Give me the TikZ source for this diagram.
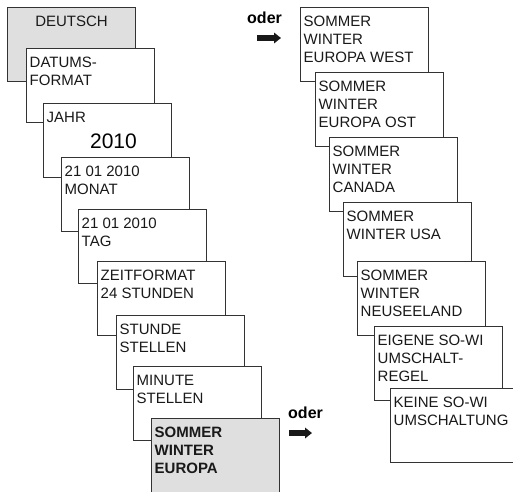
\documentclass[tikz,border=0pt]{standalone}
\usepackage{fontspec}
\setmainfont{Liberation Sans}
\usetikzlibrary{arrows.meta}
\tikzstyle{every picture}+=[
  scrnode/.style={draw=black!80,line width=1.1pt,fill=white,anchor=north west,minimum width=128pt,minimum height=74pt,inner sep=0pt},
  selnode/.style={scrnode,fill=gray!25},
  txtnode/.style={anchor=north west,align=left,inner sep=0pt,font=\fontsize{15}{18}\selectfont,text=black!90},
  odernode/.style={anchor=base west,inner sep=0pt,font=\fontsize{16}{18}\selectfont\bfseries},
  pfeil/.style={line width=5.5pt,black!90,-{Triangle[length=7pt,width=10.5pt]}}
]
\newcommand*{\screen}[4][scrnode]{\node[#1] (#2) at #3 {}; \node[txtnode] (#2txt) at ([shift={(3.5,9)}]#2.north west) {#4}}
\def\boxw{128pt}
\def\boxh{74pt}

\begin{document}
\begin{tikzpicture}[x=1pt,y=-1pt]
      \useasboundingbox (0,0) rectangle (513,491);
      \clip (0,0) rectangle (513,491);
      % linke Spalte
      \node[selnode] (deutsch) at (7,7) {};
      \node[txtnode,anchor=north] (deutschtxt) at ([yshift=-8.5pt]deutsch.north) {DEUTSCH};
      \screen{datum}{(26,48)}{DATUMS-\\FORMAT};
      \screen{jahr}{(43,103)}{JAHR};
      \node[anchor=base,inner sep=0pt,font=\fontsize{21}{24}\selectfont] (jahrzahl) at ([shift={(70.5,45)}]jahr.north west) {2010};
      \screen{monat}{(61,157)}{21 01 2010\\MONAT};
      \screen{tag}{(78,209)}{21 01 2010\\TAG};
      \screen{zeitf}{(97,261)}{ZEITFORMAT\\24 STUNDEN};
      \screen{stunde}{(116,315)}{STUNDE\\STELLEN};
      \screen{minute}{(133,366)}{MINUTE\\STELLEN};
      \screen[selnode]{sowi}{(151,418)}{\bfseries SOMMER\\\bfseries WINTER\\\bfseries EUROPA};
      %
      % rechte Spalte
      \screen{west}{(300,7)}{SOMMER\\WINTER\\EUROPA WEST};
      \screen{ost}{(315,72)}{SOMMER\\WINTER\\EUROPA OST};
      \screen{canada}{(329,137)}{SOMMER\\WINTER\\CANADA};
      \screen{usa}{(343,202)}{SOMMER\\WINTER USA};
      \screen{neus}{(357,261)}{SOMMER\\WINTER\\NEUSEELAND};
      \screen{eigen}{(374,326)}{EIGENE SO-WI\\UMSCHALT-\\REGEL};
      \screen{keine}{(390,388)}{KEINE SO-WI\\UMSCHALTUNG};
      %
      \node[odernode] (oderoben) at (247,23) {oder};
      \node[odernode] (oderunten) at (288,418) {oder};
      \coordinate (pfeilaa) at (257,38);
      \coordinate (pfeilab) at (281,38);
      \coordinate (pfeilba) at (289,433);
      \coordinate (pfeilbb) at (312,433);
      \draw[pfeil] (pfeilaa) -- (pfeilab);
      \draw[pfeil] (pfeilba) -- (pfeilbb);
      %
\end{tikzpicture}
\end{document}
